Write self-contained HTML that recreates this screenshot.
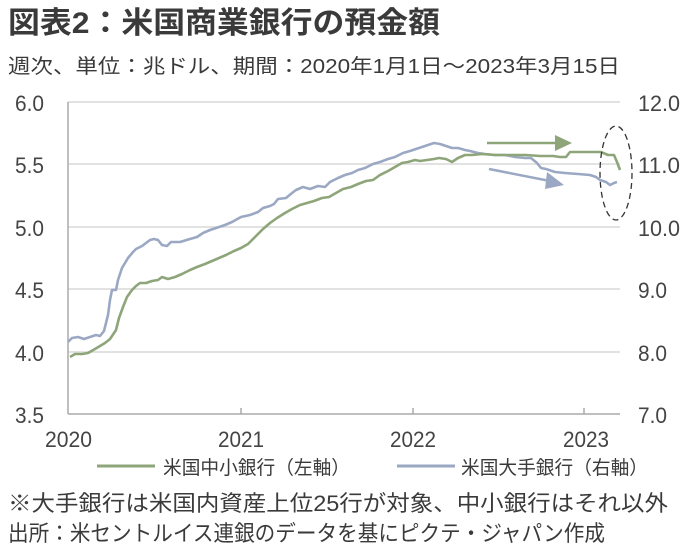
<!DOCTYPE html>
<html><head><meta charset="utf-8"><style>
html,body{margin:0;padding:0;background:#fff;}
svg{display:block;font-family:"Liberation Sans","Noto Sans CJK JP",sans-serif;}
</style></head><body>
<svg width="688" height="556" viewBox="0 0 688 556" xmlns="http://www.w3.org/2000/svg">
<g fill="#3a3a3a">
<text x="8" y="33" font-size="30" font-weight="bold" textLength="432" lengthAdjust="spacingAndGlyphs">図表2：米国商業銀行の預金額</text>
<text x="8" y="73" font-size="20" textLength="612" lengthAdjust="spacingAndGlyphs">週次、単位：兆ドル、期間：2020年1月1日～2023年3月15日</text>
</g>
<g stroke="#e2e2e2" stroke-width="2">
<line x1="68" y1="102" x2="620" y2="102"/>
<line x1="68" y1="164" x2="620" y2="164"/>
<line x1="68" y1="227" x2="620" y2="227"/>
<line x1="68" y1="289" x2="620" y2="289"/>
<line x1="68" y1="352" x2="620" y2="352"/>
</g>
<g stroke="#aaa" stroke-width="1.5">
<line x1="68" y1="102" x2="68" y2="414"/>
<line x1="68" y1="414" x2="620" y2="414"/>
<line x1="241" y1="408" x2="241" y2="414"/>
<line x1="413" y1="408" x2="413" y2="414"/>
<line x1="584" y1="408" x2="584" y2="414"/>
</g>
<g fill="#444" font-size="22" lengthAdjust="spacingAndGlyphs">
<text x="15" y="111" textLength="29" lengthAdjust="spacingAndGlyphs">6.0</text>
<text x="15" y="173" textLength="29" lengthAdjust="spacingAndGlyphs">5.5</text>
<text x="15" y="236" textLength="29" lengthAdjust="spacingAndGlyphs">5.0</text>
<text x="15" y="298" textLength="29" lengthAdjust="spacingAndGlyphs">4.5</text>
<text x="15" y="361" textLength="29" lengthAdjust="spacingAndGlyphs">4.0</text>
<text x="15" y="423" textLength="29" lengthAdjust="spacingAndGlyphs">3.5</text>
<text x="638" y="111" textLength="42" lengthAdjust="spacingAndGlyphs">12.0</text>
<text x="638" y="173" textLength="42" lengthAdjust="spacingAndGlyphs">11.0</text>
<text x="638" y="236" textLength="42" lengthAdjust="spacingAndGlyphs">10.0</text>
<text x="638" y="298" textLength="29" lengthAdjust="spacingAndGlyphs">9.0</text>
<text x="638" y="361" textLength="29" lengthAdjust="spacingAndGlyphs">8.0</text>
<text x="638" y="423" textLength="29" lengthAdjust="spacingAndGlyphs">7.0</text>
<text x="45" y="447" textLength="47" lengthAdjust="spacingAndGlyphs">2020</text>
<text x="218" y="447" textLength="46" lengthAdjust="spacingAndGlyphs">2021</text>
<text x="390" y="447" textLength="46" lengthAdjust="spacingAndGlyphs">2022</text>
<text x="563" y="447" textLength="46" lengthAdjust="spacingAndGlyphs">2023</text>
</g>
<polyline fill="none" stroke="#9ba8c3" stroke-width="2.6" stroke-linejoin="round" points="68,342 72,338 78,337 84,339 90,337 96,335 100,336 104,331 108,315 110,300 112,290 116,290 118,280 122,268 128,258 133,252 136,249 142,246 150,240 154,239 158,240 162,245 167,246 171,242 180,242 190,239 197,237 203,233 210,230 219,227 225,225 232,222 241,217 250,215 258,212 263,208 270,206 274,204 278,199 286,198 292,193 296,190 303,187 310,189 318,186 325,187 330,182 338,178 345,175 352,173 358,170 365,168 373,164 380,162 388,159 395,157 403,153 410,151 416,149 422,147 428,145 434,143 440,144 446,146 452,148 458,148 465,150 470,151 478,153 485,154 495,155 505,155 515,157 525,158 531,158 537,163 541,168 546,169 555,172 565,173 578,174 590,175 596,177 600,180 606,182 610,185 614,183 617,182"/>
<polyline fill="none" stroke="#8ea57a" stroke-width="2.6" stroke-linejoin="round" points="70,357 75,354 82,354 88,353 95,349 100,346 105,343 110,339 114,333 116,330 119,318 123,307 127,297 132,290 136,286 140,283 146,283 152,281 158,280 162,277 168,279 175,277 182,274 190,270 197,267 205,264 212,261 219,258 226,255 234,251 241,248 248,244 255,237 263,229 270,223 277,218 285,213 292,209 300,205 307,203 314,201 322,198 329,197 336,193 343,189 351,187 358,184 366,181 373,180 380,175 388,171 395,167 402,163 408,162 415,160 420,161 427,160 434,159 439,158 446,159 452,162 458,158 465,155 472,155 482,154 495,155 510,155 526,155 540,156 553,156 560,157 566,157 570,152 585,152 601,152 608,155 614,155 617,162 620,170"/>
<g>
<line x1="487" y1="143" x2="557" y2="143" stroke="#8ea57a" stroke-width="2.5"/>
<polygon points="555,135 572,143 555,151" fill="#8ea57a"/>
<line x1="489" y1="169" x2="550" y2="181" stroke="#9ba8c3" stroke-width="2.5"/>
<polygon points="547,172 564,185 545,189" fill="#9ba8c3"/>
<ellipse cx="616" cy="173" rx="16" ry="47" fill="none" stroke="#333" stroke-width="1.3" stroke-dasharray="6,4"/>
</g>
<line x1="97" y1="466" x2="155" y2="466" stroke="#8ea57a" stroke-width="3"/>
<line x1="397" y1="466" x2="455" y2="466" stroke="#9ba8c3" stroke-width="3"/>
<g fill="#3a3a3a">
<text x="163" y="474" font-size="19" textLength="187" lengthAdjust="spacingAndGlyphs">米国中小銀行（左軸）</text>
<text x="461" y="474" font-size="19" textLength="187" lengthAdjust="spacingAndGlyphs">米国大手銀行（右軸）</text>
<text x="8" y="511" font-size="22" textLength="660" lengthAdjust="spacingAndGlyphs">※大手銀行は米国内資産上位25行が対象、中小銀行はそれ以外</text>
<text x="8" y="541" font-size="22" textLength="597" lengthAdjust="spacingAndGlyphs">出所：米セントルイス連銀のデータを基にピクテ・ジャパン作成</text>
</g>
</svg>
</body></html>
